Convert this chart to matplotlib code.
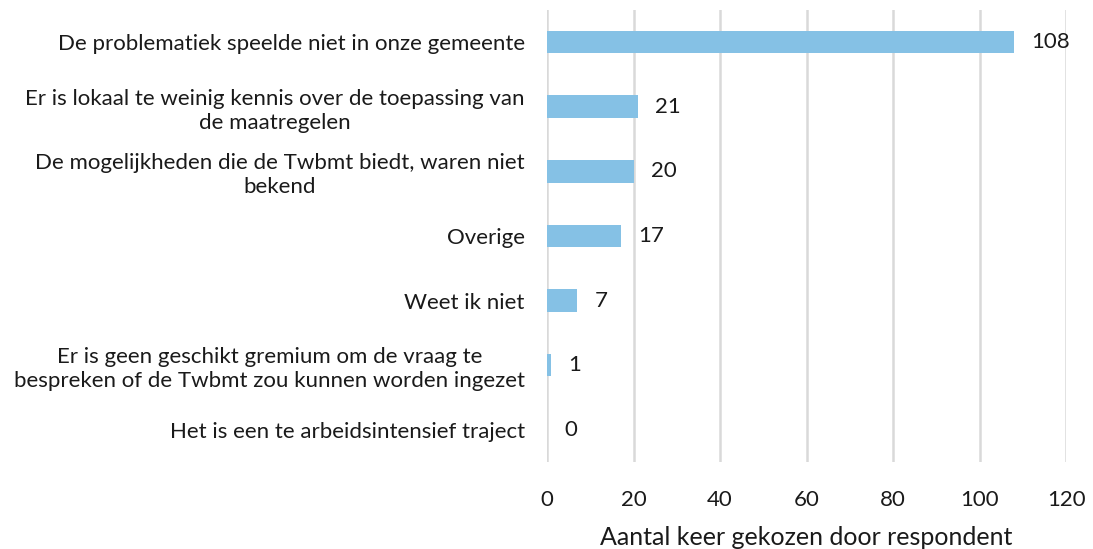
import matplotlib
matplotlib.use('Agg')
import matplotlib.pyplot as plt
import numpy as np

# data (top to bottom as in the chart)
categories = ["De problematiek speelde niet in onze gemeente",
              "Er is lokaal te weinig kennis over de toepassing van\nde maatregelen",
              "De mogelijkheden die de Twbmt biedt, waren niet\nbekend",
              "Overige",
              "Weet ik niet",
              "Er is geen geschikt gremium om de vraag te\nbespreken of de Twbmt zou kunnen worden ingezet",
              "Het is een te arbeidsintensief traject"]
counts = [108, 21, 20, 17, 7, 1, 0]
xticks = [0, 20, 40, 60, 80, 100, 120]

plt.rcParams['font.family'] = ['Lato', 'DejaVu Sans']
fs = 16

fig = plt.figure(figsize=(10.93, 5.49), dpi=100)
ax = fig.add_axes([0.5005, 0.1585, 0.475, 0.8235])

y = np.arange(len(categories))
ax.barh(y, counts, height=0.35, color='#85C1E5', zorder=3)
for yi, v in zip(y, counts):
    ax.text(v + 4, yi, str(v), va='center', ha='left', fontsize=fs, color='#1a1a1a')

ax.set_ylim(len(categories) - 0.5, -0.5)
ax.set_xlim(0, 120)
ax.set_xticks(xticks)
ax.set_yticks(y)
ax.set_yticklabels(categories, fontsize=fs, color='#1a1a1a',
                   multialignment='center', linespacing=1.25)
ax.tick_params(axis='x', labelsize=fs, colors='#1a1a1a', length=0, pad=20)
ax.tick_params(axis='y', length=0, pad=16)
ax.grid(axis='x', color='#D9D9D9', linewidth=1.8, zorder=0)
for s in ax.spines.values():
    s.set_visible(False)
ax.set_xlabel("Aantal keer gekozen door respondent", fontsize=18, color='#1a1a1a', labelpad=12)

fig.savefig('out.png', dpi=100)
